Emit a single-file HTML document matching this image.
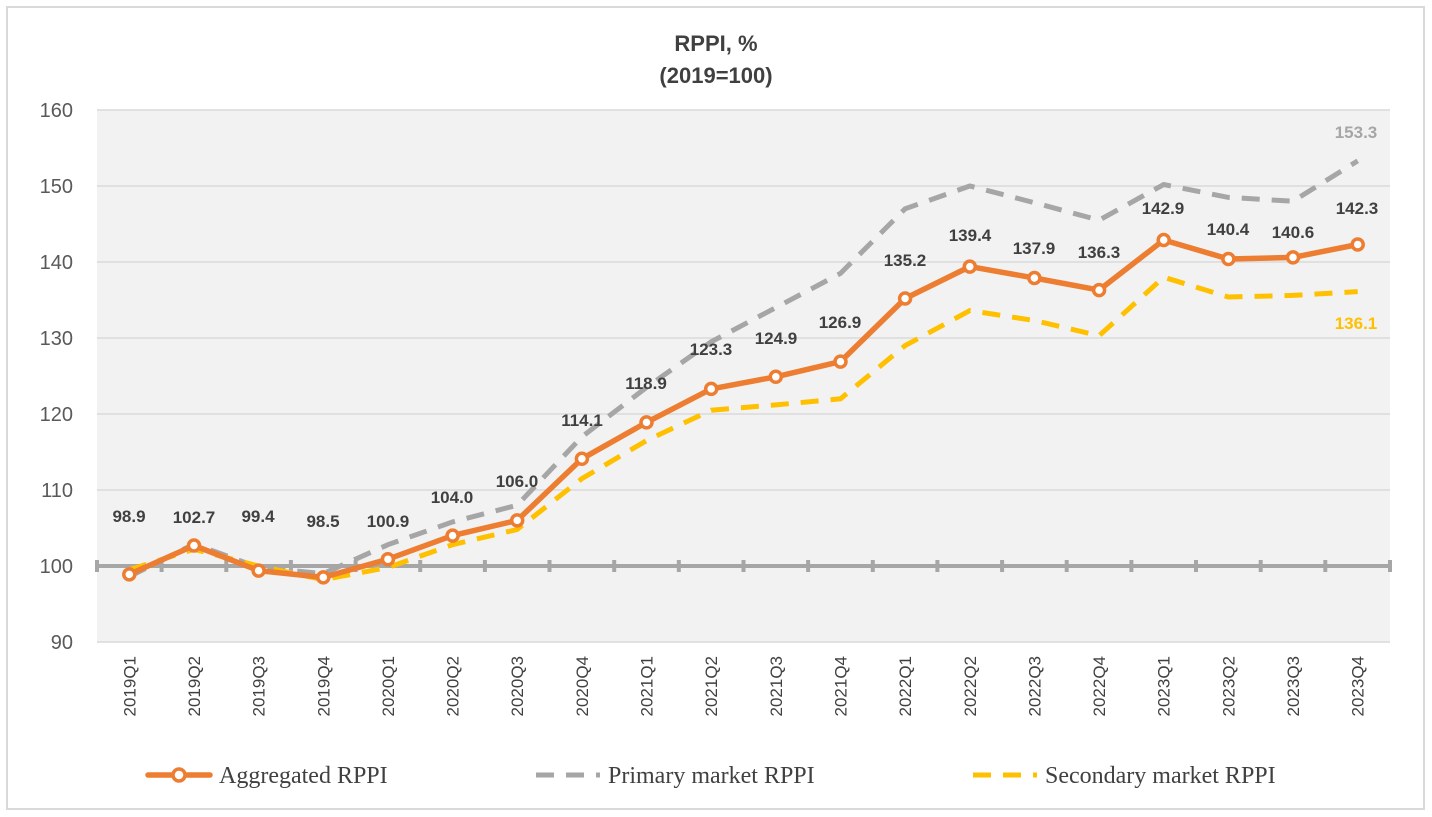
<!DOCTYPE html>
<html><head><meta charset="utf-8"><style>
html,body{margin:0;padding:0;background:#fff}
svg{display:block}
.t{font-family:"Liberation Sans",sans-serif;font-weight:bold;font-size:22px;fill:#404040}
.ya{font-family:"Liberation Sans",sans-serif;font-size:20px;fill:#595959}
.xa{font-family:"Liberation Sans",sans-serif;font-size:17px;fill:#404040}
.dl{font-family:"Liberation Sans",sans-serif;font-weight:bold;font-size:17px;fill:#404040}
.lg{font-family:"Liberation Serif",serif;font-size:24px;fill:#404040}
</style></head><body>
<svg width="1432" height="817" viewBox="0 0 1432 817">
<rect x="7" y="7" width="1417" height="802" fill="#fff" stroke="#d9d9d9" stroke-width="2"/>
<text class="t" x="716" y="51" text-anchor="middle">RPPI, %</text>
<text class="t" x="716" y="83" text-anchor="middle">(2019=100)</text>
<rect x="97" y="110" width="1293" height="532" fill="#f2f2f2"/>
<g stroke="#d9d9d9" stroke-width="1.5">
<line x1="97" x2="1390" y1="110" y2="110"/><line x1="97" x2="1390" y1="186" y2="186"/>
<line x1="97" x2="1390" y1="262" y2="262"/><line x1="97" x2="1390" y1="338" y2="338"/>
<line x1="97" x2="1390" y1="414" y2="414"/><line x1="97" x2="1390" y1="490" y2="490"/>
<line x1="97" x2="1390" y1="642" y2="642"/>
</g>
<g class="ya" text-anchor="end">
<text x="73" y="117">160</text><text x="73" y="193">150</text><text x="73" y="269">140</text>
<text x="73" y="345">130</text><text x="73" y="421">120</text><text x="73" y="497">110</text>
<text x="73" y="573">100</text><text x="73" y="649">90</text>
</g>
<g stroke="#a6a6a6" stroke-width="4">
<line x1="95" x2="1392" y1="566" y2="566"/>
<line x1="97" x2="97" y1="560" y2="572"/><line x1="161.6" x2="161.6" y1="560" y2="572"/><line x1="226.3" x2="226.3" y1="560" y2="572"/><line x1="290.9" x2="290.9" y1="560" y2="572"/><line x1="355.6" x2="355.6" y1="560" y2="572"/><line x1="420.2" x2="420.2" y1="560" y2="572"/><line x1="484.9" x2="484.9" y1="560" y2="572"/><line x1="549.5" x2="549.5" y1="560" y2="572"/><line x1="614.2" x2="614.2" y1="560" y2="572"/><line x1="678.8" x2="678.8" y1="560" y2="572"/><line x1="743.5" x2="743.5" y1="560" y2="572"/><line x1="808.1" x2="808.1" y1="560" y2="572"/><line x1="872.8" x2="872.8" y1="560" y2="572"/><line x1="937.4" x2="937.4" y1="560" y2="572"/><line x1="1002.1" x2="1002.1" y1="560" y2="572"/><line x1="1066.7" x2="1066.7" y1="560" y2="572"/><line x1="1131.4" x2="1131.4" y1="560" y2="572"/><line x1="1196" x2="1196" y1="560" y2="572"/><line x1="1260.7" x2="1260.7" y1="560" y2="572"/><line x1="1325.3" x2="1325.3" y1="560" y2="572"/><line x1="1390" x2="1390" y1="560" y2="572"/>
</g>
<polyline fill="none" stroke="#a6a6a6" stroke-width="5" stroke-dasharray="18,12" points="129.3,576.6 194,544 258.6,567.5 323.3,573.6 387.9,544.7 452.6,521.9 517.2,505.2 581.9,436.8 646.5,387.4 711.2,341.8 775.8,307.6 840.5,273.4 905.1,208.8 969.8,186 1034.4,202.7 1099.1,220.2 1163.7,184.5 1228.4,197.4 1293,201.2 1357.7,160.9"/>
<polyline fill="none" stroke="#ffc000" stroke-width="5" stroke-dasharray="18,12" points="129.3,569.8 194,549.3 258.6,566 323.3,579.7 387.9,567.5 452.6,544.7 517.2,529.5 581.9,478.6 646.5,440.6 711.2,410.2 775.8,404.9 840.5,398.8 905.1,345.6 969.8,310.6 1034.4,320.5 1099.1,335.7 1163.7,277.2 1228.4,297 1293,295.4 1357.7,291.6"/>
<polyline fill="none" stroke="#ed7d31" stroke-width="5.5" stroke-linejoin="round" points="129.3,574.4 194,545.5 258.6,570.6 323.3,577.4 387.9,559.2 452.6,535.6 517.2,520.4 581.9,458.8 646.5,422.4 711.2,388.9 775.8,376.8 840.5,361.6 905.1,298.5 969.8,266.6 1034.4,278 1099.1,290.1 1163.7,240 1228.4,259 1293,257.4 1357.7,244.5"/>
<g fill="#fff" stroke="#ed7d31" stroke-width="3.5">
<circle cx="129.3" cy="574.4" r="5.5"/><circle cx="194" cy="545.5" r="5.5"/><circle cx="258.6" cy="570.6" r="5.5"/><circle cx="323.3" cy="577.4" r="5.5"/><circle cx="387.9" cy="559.2" r="5.5"/><circle cx="452.6" cy="535.6" r="5.5"/><circle cx="517.2" cy="520.4" r="5.5"/><circle cx="581.9" cy="458.8" r="5.5"/><circle cx="646.5" cy="422.4" r="5.5"/><circle cx="711.2" cy="388.9" r="5.5"/><circle cx="775.8" cy="376.8" r="5.5"/><circle cx="840.5" cy="361.6" r="5.5"/><circle cx="905.1" cy="298.5" r="5.5"/><circle cx="969.8" cy="266.6" r="5.5"/><circle cx="1034.4" cy="278" r="5.5"/><circle cx="1099.1" cy="290.1" r="5.5"/><circle cx="1163.7" cy="240" r="5.5"/><circle cx="1228.4" cy="259" r="5.5"/><circle cx="1293" cy="257.4" r="5.5"/><circle cx="1357.7" cy="244.5" r="5.5"/>
</g>
<g class="dl" text-anchor="middle">
<text x="129" y="522">98.9</text><text x="194" y="523">102.7</text><text x="258" y="522">99.4</text><text x="323" y="527">98.5</text><text x="388" y="527">100.9</text><text x="452" y="503">104.0</text><text x="517" y="487">106.0</text><text x="582" y="426">114.1</text><text x="646" y="389">118.9</text><text x="711" y="355">123.3</text><text x="776" y="344">124.9</text><text x="840" y="328">126.9</text><text x="905" y="266">135.2</text><text x="970" y="241">139.4</text><text x="1034" y="254">137.9</text><text x="1099" y="258">136.3</text><text x="1163" y="214">142.9</text><text x="1228" y="235">140.4</text><text x="1293" y="238">140.6</text><text x="1357" y="214">142.3</text>
<text x="1356" y="138" style="fill:#a6a6a6">153.3</text>
<text x="1356" y="329" style="fill:#ffc000">136.1</text>
</g>
<g class="xa" text-anchor="end">
<text transform="translate(135.3,656) rotate(-90)">2019Q1</text><text transform="translate(200,656) rotate(-90)">2019Q2</text><text transform="translate(264.6,656) rotate(-90)">2019Q3</text><text transform="translate(329.3,656) rotate(-90)">2019Q4</text><text transform="translate(393.9,656) rotate(-90)">2020Q1</text><text transform="translate(458.6,656) rotate(-90)">2020Q2</text><text transform="translate(523.2,656) rotate(-90)">2020Q3</text><text transform="translate(587.9,656) rotate(-90)">2020Q4</text><text transform="translate(652.5,656) rotate(-90)">2021Q1</text><text transform="translate(717.2,656) rotate(-90)">2021Q2</text><text transform="translate(781.8,656) rotate(-90)">2021Q3</text><text transform="translate(846.5,656) rotate(-90)">2021Q4</text><text transform="translate(911.1,656) rotate(-90)">2022Q1</text><text transform="translate(975.8,656) rotate(-90)">2022Q2</text><text transform="translate(1040.4,656) rotate(-90)">2022Q3</text><text transform="translate(1105.1,656) rotate(-90)">2022Q4</text><text transform="translate(1169.7,656) rotate(-90)">2023Q1</text><text transform="translate(1234.4,656) rotate(-90)">2023Q2</text><text transform="translate(1299,656) rotate(-90)">2023Q3</text><text transform="translate(1363.7,656) rotate(-90)">2023Q4</text>
</g>
<line x1="148" x2="210" y1="775" y2="775" stroke="#ed7d31" stroke-width="5.5" stroke-linecap="round"/>
<circle cx="179" cy="775" r="6" fill="#fff" stroke="#ed7d31" stroke-width="3.5"/>
<text class="lg" x="219" y="783">Aggregated RPPI</text>
<line x1="536" x2="600" y1="775" y2="775" stroke="#a6a6a6" stroke-width="5" stroke-dasharray="18,12"/>
<text class="lg" x="608" y="783">Primary market RPPI</text>
<line x1="973" x2="1037" y1="775" y2="775" stroke="#ffc000" stroke-width="5" stroke-dasharray="18,12"/>
<text class="lg" x="1045" y="783">Secondary market RPPI</text>
</svg>
</body></html>
